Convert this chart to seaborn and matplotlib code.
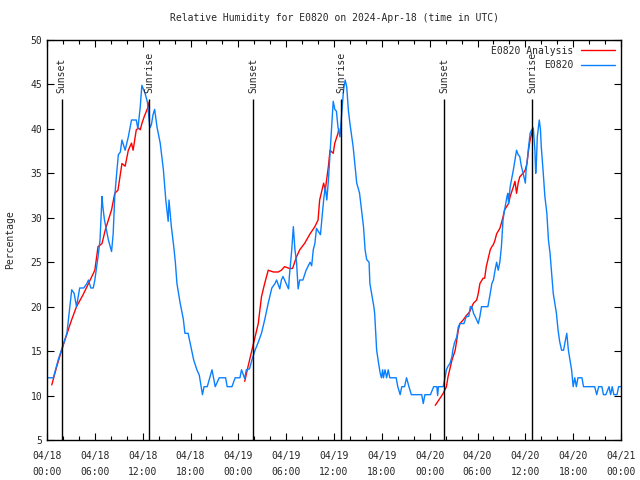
import numpy as np
import pandas as pd
import seaborn as sns
import matplotlib.pyplot as plt
import matplotlib.dates as mdates

# 数据（小时偏移，从 2024-04-18 00:00 UTC 开始）
obs_hours = [0.0, 0.8, 1.4, 1.8, 2.5, 3.1, 3.4, 3.7, 4.1, 4.6, 5.0, 5.2, 5.5, 5.8, 6.0, 6.4, 6.65, 6.9, 7.0, 7.2,
             7.7, 8.1, 8.3, 8.5, 8.7, 8.95, 9.2, 9.4, 9.8, 10.2, 10.6, 11.2, 11.4, 11.7, 11.9, 12.3, 12.6, 12.9, 13.1, 13.3,
             13.5, 13.8, 14.2, 14.6, 14.9, 15.2, 15.3, 15.6, 15.9, 16.1, 16.3, 16.7, 17.1, 17.3, 17.7, 18.15, 18.4, 18.8, 19.1, 19.5,
             19.7, 20.1, 20.7, 21.1, 21.6, 22.4, 22.6, 23.2, 23.6, 24.2, 24.4, 24.8, 25.0, 25.4, 25.7, 26.1, 26.5, 26.9, 27.3, 27.75,
             28.2, 28.6, 28.8, 29.2, 29.4, 29.6, 30.0, 30.3, 30.4, 30.7, 30.9, 31.1, 31.3, 31.5, 31.7, 32.1, 32.5, 33.0, 33.2, 33.4,
             33.6, 33.8, 34.3, 34.7, 34.9, 35.1, 35.3, 35.5, 35.7, 35.9, 36.1, 36.3, 36.5, 36.75, 36.9, 37.2, 37.4, 37.6, 37.8, 38.0,
             38.4, 38.85, 39.1, 39.2, 39.4, 39.7, 39.9, 40.1, 40.4, 40.5, 41.0, 41.1, 41.35, 41.6, 41.8, 41.95, 42.1, 42.2, 42.4, 42.6,
             42.8, 43.0, 43.8, 44.0, 44.3, 44.5, 44.85, 45.1, 45.4, 45.7, 47.0, 47.2, 47.4, 48.1, 48.5, 48.9, 49.0, 49.1, 49.7, 49.9,
             50.1, 50.3, 50.55, 50.8, 50.9, 51.1, 51.4, 51.6, 51.8, 52.3, 52.6, 52.9, 53.1, 53.3, 53.5, 53.7, 53.9, 54.1, 54.3, 54.5,
             55.3, 55.6, 55.8, 56.0, 56.2, 56.4, 56.6, 56.8, 57.0, 57.2, 57.4, 57.7, 57.8, 57.9, 58.1, 58.5, 58.7, 58.9, 59.1, 59.3,
             59.5, 59.7, 60.0, 60.1, 60.2, 60.4, 60.6, 60.8, 61.0, 61.2, 61.3, 61.4, 61.5, 61.75, 61.9, 62.0, 62.25, 62.45, 62.7, 62.9,
             63.1, 63.3, 63.5, 63.7, 63.9, 64.1, 64.3, 64.55, 64.8, 65.0, 65.2, 65.4, 65.6, 65.8, 66.0, 66.2, 66.4, 66.6, 67.1, 67.3,
             68.7, 68.95, 69.2, 69.6, 69.8, 70.1, 70.5, 70.7, 70.9, 71.1, 71.5, 71.7, 72.0]
obs_rh = [12, 12, 14, 15.1, 17, 21.9, 21.5, 20, 22.1, 22.1, 22.6, 23, 22.1, 22.1, 23, 25.6, 27.5, 32.4, 31.3, 29.8,
          27.5, 26.2, 28.2, 32.4, 34.6, 37.1, 37.4, 38.75, 37.6, 39.1, 41, 41, 40, 42.5, 44.9, 44, 43, 40.1, 40.5, 41.6,
          42.2, 40.2, 38.4, 35.4, 32, 29.6, 32, 29, 26.75, 25, 22.6, 20.4, 18.6, 17, 17, 15.1, 14, 12.9, 12.3, 10.1,
          11, 11, 12.9, 11, 12, 12, 11, 11, 12, 12, 12.9, 11.9, 12.9, 13, 14, 15.1, 16, 17, 18.5, 20.4,
          22.1, 22.6, 23, 22, 23, 23.4, 22.6, 22, 23.4, 26.4, 29, 26.4, 25, 22, 23, 23, 24.1, 25, 24.6, 26.4,
          27.1, 28.8, 28.1, 32, 33.5, 32, 34.25, 37.25, 40.25, 43.1, 42.2, 42, 40.2, 39.1, 41, 44.4, 45.5, 44.7, 42.1, 40.6,
          38, 33.9, 33.1, 32.8, 31.3, 29, 26.4, 25.3, 25, 22.6, 20, 19.25, 15.1, 13.6, 12.5, 12, 12.9, 12, 12.9, 12,
          12.9, 12, 12, 11, 10.1, 11, 11, 12, 11, 10.1, 10.1, 9.1, 10.1, 10.1, 11, 11, 10, 11, 11, 11.9,
          12.9, 13.3, 13.6, 14.4, 15.1, 15.9, 16.6, 17.75, 18.1, 18.1, 18.9, 18.9, 20, 20, 19.25, 18.9, 18.5, 18.1, 18.9, 20,
          20, 21.5, 22.6, 23, 24.1, 25, 24.1, 25, 26.75, 29.75, 30.9, 32.4, 32.75, 31.6, 33.5, 35.4, 36.5, 37.6, 37.1, 36.9,
          35.8, 35.1, 33.9, 35.4, 36.1, 37.9, 39.5, 39.9, 40.1, 37.6, 35, 36.5, 39.1, 41, 39.9, 38, 35, 32.4, 30.5, 27.5,
          26, 23.75, 21.5, 20.4, 19.25, 17.4, 16.1, 15.1, 15.1, 16.1, 17, 15.1, 14, 12.9, 11, 12, 11, 12, 12, 11,
          11, 10.1, 11, 11, 10.1, 10.1, 11, 10.1, 11, 10.1, 10.1, 11, 11]

ana_hours = [0.6, 1.2, 1.8, 2.3, 3.0, 3.7, 4.5, 5.2, 6.0, 6.4, 6.9, 7.3, 7.7, 8.1, 8.5, 8.9, 9.4, 9.8, 10.2, 10.6,
             10.8, 11.2, 11.5, 11.7, 11.9, 12.2, 12.7, 12.8,
             24.8, 25.2, 25.7, 26.1, 26.5, 26.9, 27.3, 27.75, 28.4, 29.0, 29.4, 29.8, 30.4, 30.8, 31.3, 31.7, 32.3, 33.0, 33.6, 34.0,
             34.2, 34.7, 34.9, 35.3, 35.5, 35.9, 36.1, 36.5, 36.6,
             48.7, 49.3, 49.7, 50.1, 50.3, 50.8, 51.2, 51.6, 51.8, 52.2, 52.6, 53.0, 53.5, 53.9, 54.1, 54.3, 54.7, 54.9, 55.1, 55.6,
             55.8, 56.0, 56.2, 56.4, 56.8, 57.0, 57.2, 57.4, 57.9, 58.1, 58.5, 58.7, 58.9, 59.1, 59.3, 59.8, 60.0, 60.2, 60.4, 60.6,
             60.8, 60.9]
ana_rh = [11.2, 13.2, 15.0, 16.4, 18.3, 20, 21.3, 22.6, 24.1, 26.75, 27.1, 28.6, 29.75, 30.9, 32.75, 33.1, 36.1, 35.8, 37.6, 38.4,
          37.6, 39.9, 40.1, 39.9, 40.6, 41.4, 42.5, 43,
          11.6, 13.2, 15.1, 16.6, 18.1, 21.1, 22.6, 24.1, 23.9, 23.9, 24.1, 24.5, 24.3, 24.3, 25.6, 26.4, 27.1, 28.2, 29, 29.75,
          32, 33.9, 33.1, 35.8, 37.6, 37.25, 38.4, 39.5, 40,
          8.9, 9.7, 10.25, 11, 12.1, 14, 15.1, 17.4, 18.1, 18.5, 19, 19.4, 20.4, 20.75, 21.5, 22.6, 23.2, 23.2, 24.5, 26.4,
          26.75, 27, 27.5, 28.2, 28.8, 29.4, 30.1, 30.9, 31.6, 32.4, 33.5, 34.1, 32.75, 33.9, 34.6, 35.1, 35.4, 36.1, 37.6, 38.75,
          39.5, 40]
ana_seg = [1] * 28 + [2] * 29 + [3] * 42

sun_hours = [1.85, 12.85, 25.88, 36.92, 49.84, 60.88]
sun_labels = ['Sunset', 'Sunrise', 'Sunset', 'Sunrise', 'Sunset', 'Sunrise']

start = pd.Timestamp('2024-04-18 00:00')
obs = pd.DataFrame({'time': start + pd.to_timedelta(obs_hours, unit='h'), 'rh': obs_rh})
ana = pd.DataFrame({'time': start + pd.to_timedelta(ana_hours, unit='h'), 'rh': ana_rh, 'seg': ana_seg})
sun_times = start + pd.to_timedelta(sun_hours, unit='h')

sns.set_style('ticks')
plt.rcParams['font.family'] = ['DejaVu Sans Mono']
plt.rcParams['font.size'] = 7

fig = plt.figure(figsize=(6.4, 4.8), dpi=100)
ax = fig.add_axes([47 / 640, 40 / 480, 574 / 640, 400 / 480])

sns.lineplot(data=ana, x='time', y='rh', units='seg', estimator=None, color='#ff0000',
             linewidth=1, label='E0820 Analysis', ax=ax)
sns.lineplot(data=obs, x='time', y='rh', color='#0a80ff', linewidth=1, label='E0820', ax=ax)

ax.vlines(sun_times, 5, 43.4, color='black', linewidth=1)
for t, lab in zip(sun_times, sun_labels):
    ax.text(t, 44.0, lab, rotation=90, ha='center', va='bottom', fontsize=7)

ax.set_xlim(start, start + pd.Timedelta(hours=72))
ax.set_ylim(5, 50)
ax.set_yticks(np.arange(5, 51, 5))
ax.xaxis.set_major_locator(mdates.HourLocator(byhour=[0, 6, 12, 18]))
ax.xaxis.set_minor_locator(mdates.HourLocator(byhour=range(0, 24, 2)))
ax.xaxis.set_major_formatter(mdates.DateFormatter('%m/%d\n%H:%M'))
ax.tick_params(which='both', direction='in', top=True, right=True, labelsize=7, width=0.8, color='black')
ax.tick_params(which='major', length=5)
ax.tick_params(which='minor', length=3)
ax.tick_params(axis='x', which='major', pad=8)
for lbl in ax.get_xticklabels():
    lbl.set_linespacing(1.7)
for s in ax.spines.values():
    s.set_visible(True)
    s.set_color('black')
    s.set_linewidth(1)

ax.set_xlabel('')
ax.set_ylabel('Percentage', fontsize=7)
ax.yaxis.set_label_coords(-0.056, 0.5)
ax.set_title('Relative Humidity for E0820 on 2024-Apr-18 (time in UTC)', fontsize=7, pad=14)

# 去掉重复图例项
handles, labels = ax.get_legend_handles_labels()
uniq = {}
for h, l in zip(handles, labels):
    uniq.setdefault(l, h)
ax.legend(list(uniq.values()), list(uniq.keys()), loc='upper right', frameon=False, markerfirst=False,
          fontsize=7, handlelength=3.5, borderaxespad=0.2, labelspacing=0.45)

fig.savefig('out.png', dpi=100)
